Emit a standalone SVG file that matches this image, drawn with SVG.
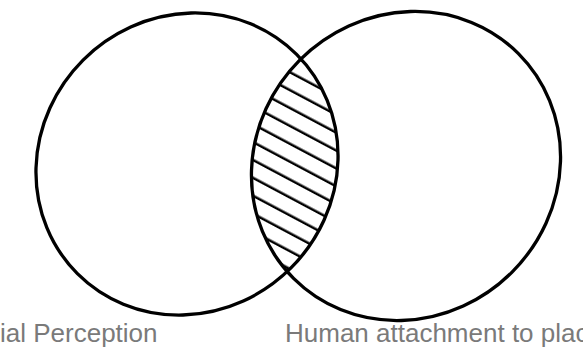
<svg xmlns="http://www.w3.org/2000/svg" width="583" height="350" viewBox="0 0 583 350">
  <style>
    .set { fill: none; stroke: #000; stroke-width: 3.3; }
    .label { font-family: "Liberation Sans", Arial, sans-serif; font-size: 26px; fill: #7a7a7a; }
  </style>
  <defs>
    <pattern id="hatch" patternUnits="userSpaceOnUse" width="200" height="15.8" patternTransform="rotate(28)">
      <line x1="0" y1="6.7" x2="200" y2="6.7" stroke="#000" stroke-width="2.3"/>
    </pattern>
    <clipPath id="clipLeft">
      <ellipse cx="187" cy="164" rx="155" ry="147" transform="rotate(-45 187 164)"/>
    </clipPath>
    <clipPath id="clipRight">
      <ellipse cx="406" cy="166" rx="159" ry="150" transform="rotate(-45 406 166)"/>
    </clipPath>
  </defs>
  <rect width="583" height="350" fill="#fff"/>
  <g id="intersection" clip-path="url(#clipLeft)">
    <rect x="200" y="30" width="180" height="280" fill="url(#hatch)" clip-path="url(#clipRight)"/>
  </g>
  <g id="set-left">
    <ellipse class="set" cx="187" cy="164" rx="155" ry="147" transform="rotate(-45 187 164)"/>
    <text class="label" x="0" y="342">ial Perception</text>
  </g>
  <g id="set-right">
    <ellipse class="set" cx="406" cy="166" rx="159" ry="150" transform="rotate(-45 406 166)"/>
    <text class="label" x="285" y="342">Human attachment to plac</text>
  </g>
  <g id="connectors"/>
</svg>
